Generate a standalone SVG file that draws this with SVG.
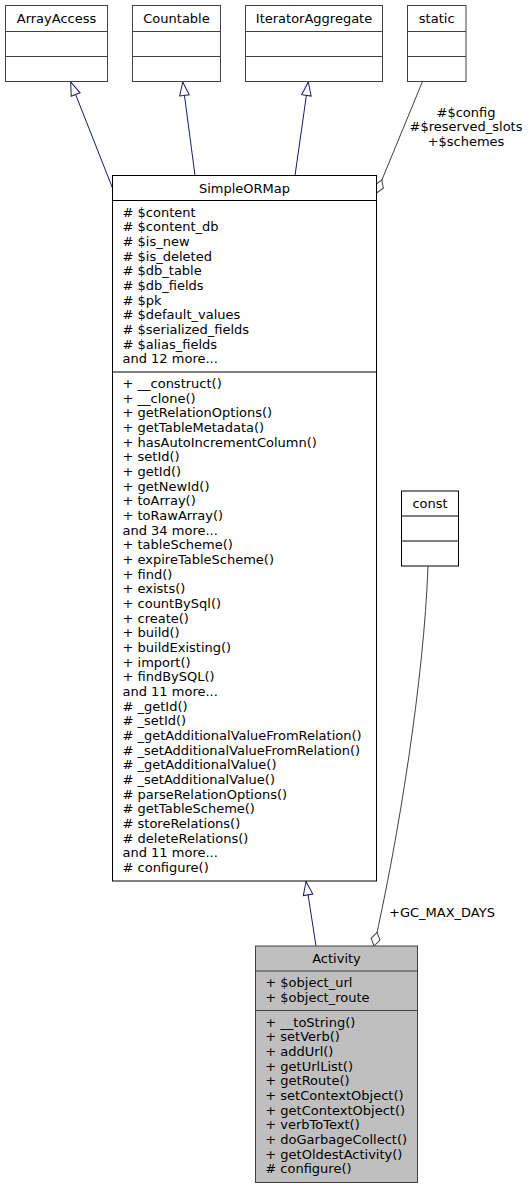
<svg xmlns="http://www.w3.org/2000/svg" width="529" height="1189" viewBox="0 0 529 1189">
<style>
text{font-family:"DejaVu Sans",sans-serif;font-size:13px;fill:#000}
.c{text-anchor:middle}
.box{fill:#fff;stroke:#000;stroke-width:1}
.gbox{fill:#fff;stroke:#404040;stroke-width:1}
.root{fill:#bfbfbf;stroke:#404040;stroke-width:1}
.div{stroke:#000;stroke-width:1}
.gdiv{stroke:#404040;stroke-width:1}
.inh{fill:none;stroke:#191970;stroke-width:1}
.use{fill:none;stroke:#404040;stroke-width:1}
</style>
<defs>
<marker id="tri" markerUnits="userSpaceOnUse" markerWidth="16" markerHeight="12" viewBox="-15 -6 16 12" refX="0" refY="0" orient="auto"><path d="M0,0 L-13.5,-4.8 L-13.5,4.8 Z" fill="#fff" stroke="#191970"/></marker>
<marker id="dia" markerUnits="userSpaceOnUse" markerWidth="17" markerHeight="12" viewBox="-16 -6 17 12" refX="0" refY="0" orient="auto"><path d="M0,0 L-7,-4.5 L-14,0 L-7,4.5 Z" fill="#fff" stroke="#404040"/></marker>
</defs>

<g id="connectors">
<path class="inh" d="M112.5,188 L70.7,82" marker-end="url(#tri)"/>
<path class="inh" d="M195,175.5 L182.7,82" marker-end="url(#tri)"/>
<path class="inh" d="M295,175.5 L308.3,82" marker-end="url(#tri)"/>
<path class="use" d="M422.3,82 L376.5,193" marker-end="url(#dia)"/>
<text class="c" x="466" y="116.5">#$config</text>
<text class="c" x="466" y="131">#$reserved_slots</text>
<text class="c" x="466" y="145.7">+$schemes</text>
<path class="inh" d="M316,946 L306,881.5" marker-end="url(#tri)"/>
<path class="use" d="M428,566 C424,680 398,840 374,946" marker-end="url(#dia)"/>
<text x="389" y="917">+GC_MAX_DAYS</text>
</g>

<g id="ArrayAccess">
<rect class="gbox" x="5.5" y="5.5" width="102" height="76"/>
<line class="gdiv" x1="5.5" y1="31.5" x2="107.5" y2="31.5"/>
<line class="gdiv" x1="5.5" y1="56.5" x2="107.5" y2="56.5"/>
<text class="c" x="56.5" y="22.7">ArrayAccess</text>
</g>

<g id="Countable">
<rect class="gbox" x="132.5" y="5.5" width="88" height="76"/>
<line class="gdiv" x1="132.5" y1="31.5" x2="220.5" y2="31.5"/>
<line class="gdiv" x1="132.5" y1="56.5" x2="220.5" y2="56.5"/>
<text class="c" x="176.5" y="22.7">Countable</text>
</g>

<g id="IteratorAggregate">
<rect class="gbox" x="245.5" y="5.5" width="137" height="76"/>
<line class="gdiv" x1="245.5" y1="31.5" x2="382.5" y2="31.5"/>
<line class="gdiv" x1="245.5" y1="56.5" x2="382.5" y2="56.5"/>
<text class="c" x="314" y="22.7">IteratorAggregate</text>
</g>

<g id="static">
<rect class="gbox" x="407.5" y="5.5" width="58.5" height="76"/>
<line class="gdiv" x1="407.5" y1="31.5" x2="466" y2="31.5"/>
<line class="gdiv" x1="407.5" y1="56.5" x2="466" y2="56.5"/>
<text class="c" x="436.7" y="22.7">static</text>
</g>

<g id="SimpleORMap">
<rect class="box" x="112.5" y="175.5" width="264" height="705.5"/>
<line class="div" x1="112.5" y1="200.5" x2="376.5" y2="200.5"/>
<line class="div" x1="112.5" y1="372" x2="376.5" y2="372"/>
<text class="c" x="244.5" y="192.5">SimpleORMap</text>
<text x="122.5" y="216.5"><tspan x="122.5"># $content</tspan><tspan x="122.5" dy="14.67"># $content_db</tspan><tspan x="122.5" dy="14.67"># $is_new</tspan><tspan x="122.5" dy="14.67"># $is_deleted</tspan><tspan x="122.5" dy="14.67"># $db_table</tspan><tspan x="122.5" dy="14.67"># $db_fields</tspan><tspan x="122.5" dy="14.67"># $pk</tspan><tspan x="122.5" dy="14.67"># $default_values</tspan><tspan x="122.5" dy="14.67"># $serialized_fields</tspan><tspan x="122.5" dy="14.67"># $alias_fields</tspan><tspan x="122.5" dy="14.67">and 12 more...</tspan></text>
<text x="122.5" y="388"><tspan x="122.5">+ __construct()</tspan><tspan x="122.5" dy="14.67">+ __clone()</tspan><tspan x="122.5" dy="14.67">+ getRelationOptions()</tspan><tspan x="122.5" dy="14.67">+ getTableMetadata()</tspan><tspan x="122.5" dy="14.67">+ hasAutoIncrementColumn()</tspan><tspan x="122.5" dy="14.67">+ setId()</tspan><tspan x="122.5" dy="14.67">+ getId()</tspan><tspan x="122.5" dy="14.67">+ getNewId()</tspan><tspan x="122.5" dy="14.67">+ toArray()</tspan><tspan x="122.5" dy="14.67">+ toRawArray()</tspan><tspan x="122.5" dy="14.67">and 34 more...</tspan><tspan x="122.5" dy="14.67">+ tableScheme()</tspan><tspan x="122.5" dy="14.67">+ expireTableScheme()</tspan><tspan x="122.5" dy="14.67">+ find()</tspan><tspan x="122.5" dy="14.67">+ exists()</tspan><tspan x="122.5" dy="14.67">+ countBySql()</tspan><tspan x="122.5" dy="14.67">+ create()</tspan><tspan x="122.5" dy="14.67">+ build()</tspan><tspan x="122.5" dy="14.67">+ buildExisting()</tspan><tspan x="122.5" dy="14.67">+ import()</tspan><tspan x="122.5" dy="14.67">+ findBySQL()</tspan><tspan x="122.5" dy="14.67">and 11 more...</tspan><tspan x="122.5" dy="14.67"># _getId()</tspan><tspan x="122.5" dy="14.67"># _setId()</tspan><tspan x="122.5" dy="14.67"># _getAdditionalValueFromRelation()</tspan><tspan x="122.5" dy="14.67"># _setAdditionalValueFromRelation()</tspan><tspan x="122.5" dy="14.67"># _getAdditionalValue()</tspan><tspan x="122.5" dy="14.67"># _setAdditionalValue()</tspan><tspan x="122.5" dy="14.67"># parseRelationOptions()</tspan><tspan x="122.5" dy="14.67"># getTableScheme()</tspan><tspan x="122.5" dy="14.67"># storeRelations()</tspan><tspan x="122.5" dy="14.67"># deleteRelations()</tspan><tspan x="122.5" dy="14.67">and 11 more...</tspan><tspan x="122.5" dy="14.67"># configure()</tspan></text>
</g>

<g id="const">
<rect class="box" x="401.5" y="491" width="57" height="75"/>
<line class="div" x1="401.5" y1="516" x2="458.5" y2="516"/>
<line class="div" x1="401.5" y1="541" x2="458.5" y2="541"/>
<text class="c" x="430" y="508">const</text>
</g>

<g id="Activity">
<rect class="root" x="255.5" y="946" width="162" height="236.5"/>
<line class="gdiv" x1="255.5" y1="971" x2="417.5" y2="971"/>
<line class="gdiv" x1="255.5" y1="1010.5" x2="417.5" y2="1010.5"/>
<text class="c" x="336.5" y="963">Activity</text>
<text x="265.3" y="987"><tspan x="265.3">+ $object_url</tspan><tspan x="265.3" dy="14.67">+ $object_route</tspan></text>
<text x="265.3" y="1026.5"><tspan x="265.3">+ __toString()</tspan><tspan x="265.3" dy="14.67">+ setVerb()</tspan><tspan x="265.3" dy="14.67">+ addUrl()</tspan><tspan x="265.3" dy="14.67">+ getUrlList()</tspan><tspan x="265.3" dy="14.67">+ getRoute()</tspan><tspan x="265.3" dy="14.67">+ setContextObject()</tspan><tspan x="265.3" dy="14.67">+ getContextObject()</tspan><tspan x="265.3" dy="14.67">+ verbToText()</tspan><tspan x="265.3" dy="14.67">+ doGarbageCollect()</tspan><tspan x="265.3" dy="14.67">+ getOldestActivity()</tspan><tspan x="265.3" dy="14.67"># configure()</tspan></text>
</g>
</svg>
